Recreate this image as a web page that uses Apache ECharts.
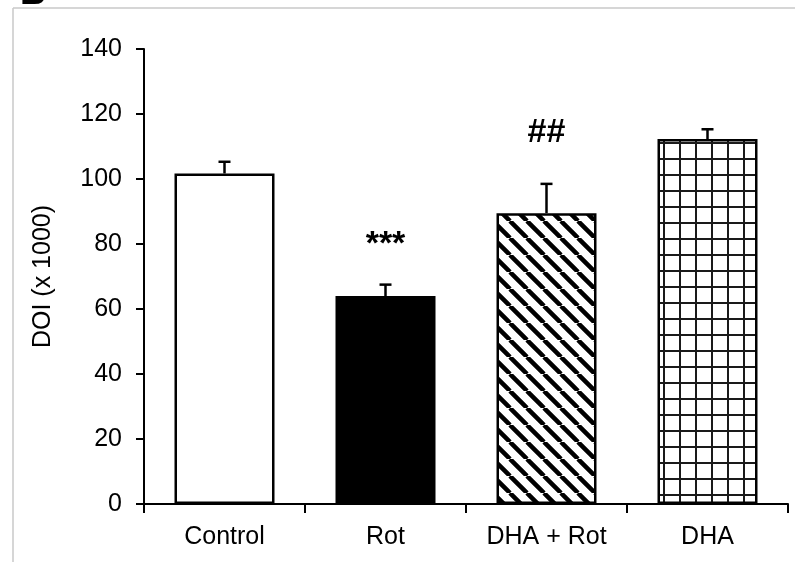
<!DOCTYPE html>
<html><head><meta charset="utf-8">
<script src="https://cdn.jsdelivr.net/npm/echarts@6/dist/echarts.min.js"></script>
<style>html,body{margin:0;padding:0;background:#fff}#c{width:795px;height:562px}</style>
</head><body><div id="c"></div>
<script>
const categories = ['Control', 'Rot', 'DHA + Rot', 'DHA'];
const means = [101.7, 64.0, 89.5, 112.3];
const errors = [3.6, 3.5, 9.0, 3.0];
const marks = ['', '***', '##', ''];
const yMin = 0, yMax = 140, yStep = 20;

function hatchCanvas() {
  const s = 17, c = document.createElement('canvas');
  c.width = s; c.height = s;
  const g = c.getContext('2d');
  g.fillStyle = '#fff'; g.fillRect(0, 0, s, s);
  g.strokeStyle = '#000'; g.lineWidth = 4.5;
  g.beginPath();
  for (const o of [-s, 0, s]) { g.moveTo(o, 0); g.lineTo(o + s, s); }
  g.stroke();
  return c;
}
function gridCanvas() {
  const s = 16, c = document.createElement('canvas');
  c.width = s; c.height = s;
  const g = c.getContext('2d');
  g.fillStyle = '#fff'; g.fillRect(0, 0, s, s);
  g.fillStyle = '#1a1a1a';
  g.fillRect(7, 0, 2, s);
  g.fillRect(0, 14, s, 2);
  return c;
}
const fills = ['#ffffff', '#000000', { image: hatchCanvas(), repeat: 'repeat' }, { image: gridCanvas(), repeat: 'repeat' }];
const markGap = [0, 40, 51, 0];

const chart = echarts.init(document.getElementById('c'), null, { renderer: 'canvas' });
const FONT = 'Liberation Sans, Arial, sans-serif';
chart.setOption({
  animation: false,
  backgroundColor: '#fff',
  grid: { left: 144, right: 7, top: 49, bottom: 58 },
  xAxis: {
    type: 'category', data: categories, boundaryGap: true,
    axisLine: { lineStyle: { color: '#000', width: 2 } },
    axisTick: { show: true, length: 9, inside: false, lineStyle: { color: '#000', width: 2 } },
    axisLabel: { color: '#000', fontSize: 25, fontFamily: FONT, margin: 21 }
  },
  yAxis: {
    type: 'value', min: yMin, max: yMax, interval: yStep,
    name: 'DOI (x 1000)', nameLocation: 'middle', nameGap: 88, nameRotate: 90,
    nameTextStyle: { color: '#000', fontSize: 25, fontFamily: FONT },
    splitLine: { show: false },
    axisLine: { show: true, lineStyle: { color: '#000', width: 2 } },
    axisTick: { show: true, length: 8, lineStyle: { color: '#000', width: 2 } },
    axisLabel: { color: '#000', fontSize: 25, fontFamily: FONT, margin: 22 }
  },
  graphic: [
    { type: 'line', shape: { x1: 13, y1: 8, x2: 795, y2: 8 }, style: { stroke: '#c8c8c8', lineWidth: 1.5 } },
    { type: 'line', shape: { x1: 13, y1: 8, x2: 13, y2: 562 }, style: { stroke: '#c8c8c8', lineWidth: 1.5 } },
    { type: 'text', left: 20, top: -24, style: { text: 'B', fill: '#000', font: 'bold 36px ' + FONT } }
  ],
  series: [
    {
      type: 'bar', barWidth: 100,
      data: means.map((v, i) => ({ value: v, itemStyle: { color: fills[i], borderColor: '#000', borderWidth: 2.5 } })),
      z: 2
    },
    {
      type: 'custom', z: 3,
      data: means.map((m, i) => [i, m, errors[i]]),
      renderItem: (params, api) => {
        const x = api.coord([api.value(0), 0])[0];
        const y0 = api.coord([api.value(0), api.value(1)])[1];
        const y1 = api.coord([api.value(0), api.value(1) + api.value(2)])[1];
        const i = params.dataIndex;
        const kids = [
          { type: 'line', shape: { x1: x, y1: y0, x2: x, y2: y1 }, style: { stroke: '#000', lineWidth: 2.5 } },
          { type: 'line', shape: { x1: x - 6, y1: y1, x2: x + 6, y2: y1 }, style: { stroke: '#000', lineWidth: 2.5 } }
        ];
        if (marks[i]) {
          kids.push({ type: 'text', style: { text: marks[i], x: x, y: y1 - markGap[i], align: 'center', verticalAlign: 'middle', fill: '#000', font: (i === 1 ? 'bold 34px ' : 'bold 34px ') + FONT } });
        }
        return { type: 'group', children: kids };
      }
    }
  ]
});
</script>
</body></html>
